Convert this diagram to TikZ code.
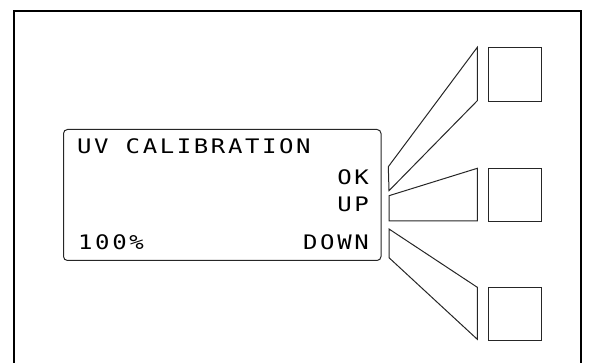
\documentclass[tikz,border=0pt]{standalone}
\usepackage{fontspec}
\newfontfamily\lcdfont[FakeStretch=1.2,LetterSpace=13]{DejaVu Sans Mono}
\begin{document}
\begin{tikzpicture}[x=1pt,y=-1pt,
  frame/.style={draw=black,line width=2pt},
  thin/.style={draw=black!85,line width=1pt},
  lcd/.style={font=\lcdfont\fontsize{20}{20}\selectfont,inner sep=0pt,text=black},
  key/.style={thin,minimum width=53.6pt,minimum height=53.4pt,inner sep=0pt,anchor=north west}
]
\useasboundingbox (0,0) rectangle (589,363);
\draw[frame] (13.5,370) -- (13.5,11.3) -- (581,11.3) -- (581,370);
\draw[thin,rounded corners=4pt] (63.5,129.5) rectangle (381,260.5);
\node[lcd,anchor=base west] (title) at (77,153.5) {UV CALIBRATION};
\node[lcd,anchor=base east] (ok) at (369,185) {OK};
\node[lcd,anchor=base east] (up) at (369,211.5) {UP};
\node[lcd,anchor=base east] (down) at (369,250) {DOWN};
\node[lcd,anchor=base west] (pct) at (78,250) {100\%};
\node[key] (k1) at (487.7,47.3) {};
\node[key] (k2) at (487.7,168) {};
\node[key] (k3) at (487.7,287) {};
\draw[thin,line join=miter] (388.3,166.7) -- (477.3,47.3) -- (477.3,100.7) -- (389,190.7) -- cycle;
\draw[thin] (389,195.7) -- (477.3,168.3) -- (477.3,221) -- (389,221) -- cycle;
\draw[thin] (389,229) -- (477.3,287.3) -- (477.3,339.3) -- (389,257.7) -- cycle;
\end{tikzpicture}
\end{document}
